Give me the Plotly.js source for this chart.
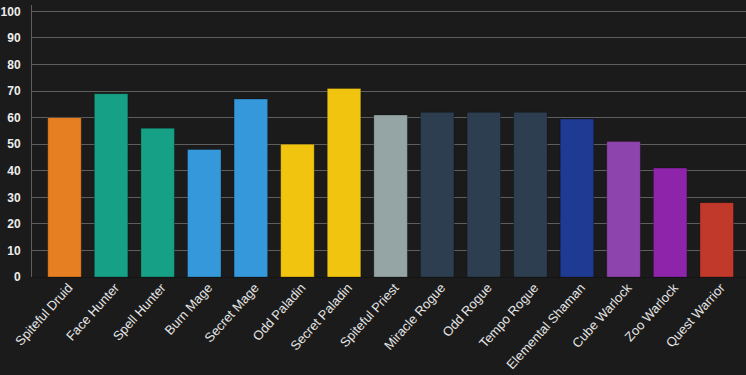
<!DOCTYPE html>
<html>
<head>
<meta charset="utf-8">
<script src="https://cdn.plot.ly/plotly-3.0.1.min.js"></script>
<style>
html,body{margin:0;padding:0;background:#1b1b1b;}
#chart{width:746px;height:375px;}
</style>
</head>
<body>
<div id="chart"></div>
<script>
const categories = ["Spiteful Druid","Face Hunter","Spell Hunter","Burn Mage","Secret Mage","Odd Paladin","Secret Paladin","Spiteful Priest","Miracle Rogue","Odd Rogue","Tempo Rogue","Elemental Shaman","Cube Warlock","Zoo Warlock","Quest Warrior"];
const values = [60,69,56,48,67,50,71,61,62,62,62,59.5,51,41,28];
const colors = ["#e67e22","#16a085","#16a085","#3498db","#3498db","#f1c40f","#f1c40f","#95a5a6","#2c3e50","#2c3e50","#2c3e50","#1f3a93","#8e44ad","#8e24aa","#c0392b"];
const yTicks = [0,10,20,30,40,50,60,70,80,90,100];

const trace = {
  type: 'bar',
  x: categories.map((c,i)=>i),
  y: values,
  width: 0.72,
  marker: {color: colors, line: {color: 'rgba(0,0,0,0.25)', width: 1}},
  hoverinfo: 'skip'
};

const layout = {
  width: 746, height: 375,
  paper_bgcolor: '#1b1b1b', plot_bgcolor: '#1b1b1b',
  margin: {l: 32, r: 0, t: 5, b: 98, pad: 0},
  showlegend: false,
  bargap: 0,
  xaxis: {
    range: [-0.6976, 14.628],
    tickvals: categories.map((c,i)=>i),
    ticktext: categories,
    tickangle: -48,
    tickfont: {family: 'Liberation Sans, Arial, sans-serif', size: 13, color: '#e6e6e6'},
    showgrid: false, zeroline: false,
    showline: true, linecolor: '#141414', linewidth: 1,
    ticks: '', ticklabelstandoff: -3, ticklabelshift: 4, fixedrange: true
  },
  yaxis: {
    range: [0, 102.4],
    tickvals: yTicks,
    ticktext: yTicks.map(String),
    tickfont: {family: 'Liberation Sans, Arial, sans-serif', size: 12, color: '#ededed', weight: 'bold'},
    showgrid: true, gridcolor: '#5e5e5e', gridwidth: 1,
    zeroline: false,
    showline: true, linecolor: '#5e5e5e', linewidth: 1,
    ticks: '', ticklabelstandoff: 8, fixedrange: true
  }
};

Plotly.newPlot('chart', [trace], layout, {displayModeBar: false, staticPlot: true});
</script>
</body>
</html>
